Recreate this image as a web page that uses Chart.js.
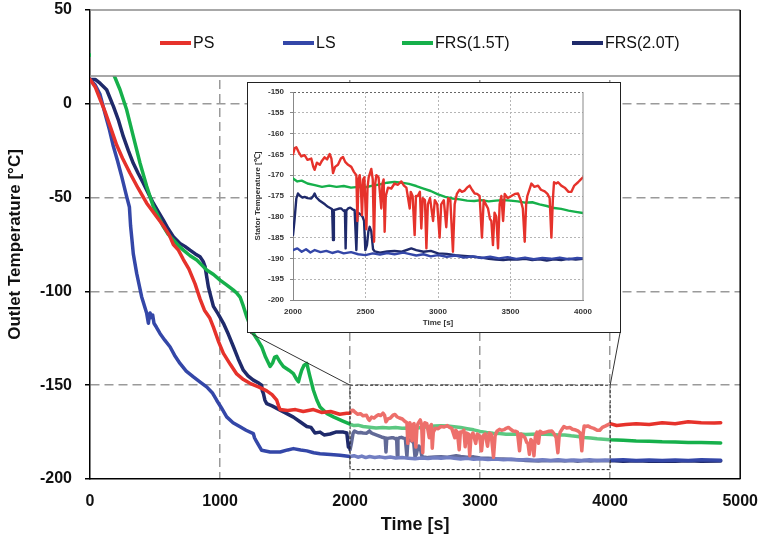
<!DOCTYPE html>
<html>
<head>
<meta charset="utf-8">
<script src="https://cdn.jsdelivr.net/npm/chart.js@4.4.1/dist/chart.umd.min.js"></script>
<style>
  html, body { margin: 0; padding: 0; background: #fff; }
  #wrap { position: relative; width: 766px; height: 541px; }
  #mainChart { position: absolute; left: 0; top: 0; }
  #insetBox { position: absolute; left: 247px; top: 82px; width: 372px; height: 249px;
              border: 1.5px solid #222; background: #fff; }
  #insetChart { position: absolute; left: 0; top: 0; }
</style>
</head>
<body>
<div id="wrap">
  <canvas id="mainChart" width="766" height="541"></canvas>
  <div id="insetBox"><canvas id="insetChart" width="372" height="249"></canvas></div>
</div>
<script>
// series names and colours
const seriesNames = ['PS', 'LS', 'FRS(1.5T)', 'FRS(2.0T)'];
const seriesColors = ['#e6322b', '#3447a8', '#16b04b', '#1f2a6b'];

// PS
const psTime = [0, 40, 80, 115, 160, 205, 250, 308, 370, 436, 500, 564, 610, 641, 680, 718, 760, 808, 846, 880,
  920, 949, 990, 1026, 1080, 1128, 1180, 1230, 1300, 1359, 1400, 1436, 1450, 1462, 1520, 1580, 1640, 1718, 1780, 1850,
  1920, 1974, 2000, 2012, 2023, 2040, 2057, 2080, 2100, 2126, 2140, 2149, 2165, 2185, 2200, 2218, 2235, 2253, 2265, 2276,
  2290, 2310, 2330, 2345, 2360, 2380, 2402, 2420, 2437, 2444, 2452, 2460, 2468, 2476, 2484, 2492, 2506, 2514, 2522, 2540,
  2550, 2559, 2567, 2575, 2590, 2609, 2617, 2625, 2632, 2640, 2655, 2678, 2700, 2724, 2747, 2765, 2782, 2805, 2812, 2825,
  2839, 2848, 2860, 2875, 2885, 2895, 2910, 2920, 2930, 2945, 2966, 2978, 2995, 3011, 3022, 3040, 3057, 3070, 3085, 3103,
  3115, 3130, 3149, 3165, 3184, 3200, 3218, 3235, 3253, 3270, 3287, 3303, 3315, 3330, 3345, 3358, 3368, 3379, 3390, 3402,
  3414, 3425, 3437, 3449, 3460, 3480, 3506, 3530, 3552, 3570, 3585, 3598, 3608, 3616, 3630, 3644, 3665, 3690, 3710, 3736,
  3755, 3770, 3782, 3792, 3800, 3815, 3828, 3850, 3874, 3900, 3920, 3940, 3966, 3985, 4000, 4050, 4120, 4200, 4300, 4400,
  4500, 4600, 4700, 4800, 4850];
const psTemp = [13, 9, 2, -4, -13, -22, -29, -37, -45, -53, -59, -65, -70, -75, -78, -83, -88, -96, -104, -110,
  -114, -119, -127, -133, -139, -144, -147, -149, -151, -153, -155, -158, -161, -163, -163.5, -163, -164, -163, -164.5, -164,
  -165.5, -165, -165, -163.5, -163.3, -164.5, -165.5, -165.2, -166.3, -166, -168, -168.7, -167, -167.5, -166.5, -165.7, -166.2, -164.9, -166, -169.5,
  -168, -167.5, -166, -165.6, -166.8, -167.5, -168, -169.2, -170, -181, -171, -170, -173, -179.6, -171, -170.5, -183, -173, -170.5, -168.5,
  -171, -186, -172, -170, -170.5, -178, -172, -171, -183.6, -175, -173, -173.2, -172, -172.3, -171.5, -172.5, -173, -178, -174, -175,
  -184.4, -175, -175, -174, -182.8, -175.5, -176, -187.6, -177, -175.5, -181, -176, -177, -185, -177, -176, -182.5, -175.5, -176, -188.4,
  -177, -174.5, -173.5, -174, -173.7, -173, -172.5, -173.5, -174.4, -174.5, -175, -185, -176, -177, -178, -180.5, -181, -186.8, -179, -180,
  -187.6, -177, -175, -181, -174.5, -175.5, -175, -174.5, -174.4, -176, -178, -186, -177, -175, -173.5, -172, -172.8, -172.5, -173.5, -173.9,
  -174.5, -175.5, -185, -176, -171.7, -172, -171.7, -172.5, -173, -174, -174, -172.5, -171.7, -171, -170.5, -171.5, -171, -170.5, -171, -170,
  -170.5, -169.5, -170, -170.2, -170];

// LS
const lsTime = [0, 40, 77, 115, 150, 180, 210, 244, 282, 303, 312, 322, 333, 359, 397, 436, 449, 456, 462, 470,
  482, 492, 510, 538, 575, 615, 650, 692, 740, 795, 850, 897, 940, 974, 1010, 1051, 1100, 1154, 1200, 1256,
  1265, 1280, 1320, 1385, 1462, 1520, 1564, 1620, 1667, 1720, 1769, 1850, 1923, 2000, 2030, 2060, 2090, 2120, 2150, 2190,
  2230, 2270, 2310, 2350, 2400, 2450, 2500, 2550, 2600, 2650, 2700, 2760, 2800, 2850, 2900, 2950, 3000, 3060, 3120, 3180,
  3240, 3300, 3360, 3420, 3480, 3540, 3600, 3660, 3720, 3780, 3840, 3900, 3960, 4000, 4100, 4200, 4300, 4400, 4500, 4600,
  4700, 4850];
const lsTemp = [13, 10, 5, -5, -14, -22.8, -30, -38.8, -49.5, -55, -65, -72, -80, -90.4, -102.8, -111.7, -117, -113, -111.5, -114,
  -112.6, -117, -119, -122.4, -126, -129.5, -134, -138.4, -142.5, -145.6, -148.5, -150.9, -154, -158, -162, -166.9, -170, -172.2, -174, -175.8,
  -178, -180, -184.7, -185.6, -185.6, -184.5, -183.8, -184.5, -185, -186, -186.5, -187, -187.4, -188, -187.6, -188.4, -187.8, -188.6, -188, -188.5,
  -188.2, -188.7, -188.3, -188.8, -188.5, -189, -189.2, -188.8, -189.1, -188.7, -189, -188.6, -188.9, -189.3, -189, -189.5, -189.2, -189.6, -189.3, -189.8,
  -189.5, -189.9, -189.6, -190, -189.7, -190.1, -189.8, -190.2, -189.9, -190.1, -189.8, -190.2, -189.9, -190, -189.8, -190.1, -189.9, -190.2, -189.9, -190.1,
  -189.8, -190];

// FRS(1.5T)
const frs15Time = [0, 60, 120, 160, 192, 231, 282, 333, 385, 436, 487, 525, 564, 600, 641, 680, 718, 770, 821, 860,
  897, 950, 1000, 1050, 1103, 1130, 1154, 1180, 1205, 1230, 1256, 1290, 1320, 1350, 1385, 1405, 1420, 1436, 1460, 1487,
  1530, 1564, 1590, 1603, 1615, 1628, 1645, 1667, 1690, 1718, 1745, 1769, 1820, 1872, 1940, 2000, 2030, 2060, 2100, 2150,
  2200, 2250, 2300, 2350, 2400, 2450, 2500, 2550, 2600, 2650, 2700, 2750, 2800, 2850, 2900, 2950, 3000, 3050, 3100, 3150,
  3200, 3250, 3300, 3350, 3400, 3450, 3500, 3550, 3600, 3650, 3700, 3750, 3800, 3850, 3900, 3950, 4000, 4100, 4200, 4300,
  4400, 4500, 4600, 4700, 4850];
const frs15Temp = [26, 25, 22, 19, 14, 7.5, -3.2, -17.4, -31.7, -44, -54.8, -60, -65.5, -69.5, -72.6, -75.5, -78, -81, -83.3, -86,
  -88.6, -91, -94, -96.5, -99.3, -101, -103, -108, -113.5, -118, -122.4, -126, -129.5, -135, -140, -138, -135, -134.6, -137.5, -140,
  -142, -143.8, -147, -148.2, -145, -142, -139.5, -138.4, -145, -152.7, -158, -161.6, -165, -166.9, -169, -170.8, -171.5, -171.3, -172, -172.4,
  -172.8, -172.5, -172.8, -172.6, -173, -172.8, -172.9, -172.5, -172.2, -171.8, -171.6, -171.8, -172.1, -172.6, -173.2, -173.8, -174.6, -175.2, -175.6, -175.8,
  -176.1, -176.2, -176, -176.3, -176.1, -176, -176.1, -176.3, -176.6, -176.5, -177, -177.4, -177.9, -178.1, -178.5, -178.8, -179.1, -179.4, -179.8, -179.9,
  -180.2, -180.3, -180.6, -180.5, -180.8];

// FRS(2.0T)
const frs20Time = [0, 40, 77, 128, 180, 220, 256, 295, 333, 370, 410, 450, 487, 525, 564, 600, 641, 692, 730, 769,
  810, 846, 870, 885, 897, 910, 930, 949, 985, 1026, 1065, 1103, 1140, 1179, 1215, 1256, 1300, 1320, 1325, 1333,
  1345, 1359, 1400, 1462, 1510, 1564, 1615, 1667, 1700, 1730, 1769, 1800, 1846, 1890, 1949, 1975, 1987, 1995, 2000, 2010,
  2023, 2034, 2050, 2065, 2080, 2100, 2126, 2140, 2149, 2160, 2180, 2200, 2220, 2241, 2262, 2270, 2276, 2282, 2300, 2320,
  2333, 2350, 2358, 2363, 2368, 2380, 2395, 2410, 2425, 2437, 2445, 2460, 2471, 2480, 2490, 2499, 2510, 2520, 2529, 2540,
  2552, 2563, 2600, 2650, 2700, 2750, 2816, 2850, 2900, 2950, 3000, 3060, 3120, 3180, 3250, 3300, 3350, 3400, 3450, 3500,
  3550, 3600, 3650, 3700, 3750, 3800, 3850, 3900, 3950, 4000, 4100, 4200, 4300, 4400, 4500, 4600, 4700, 4850];
const frs20Temp = [13, 13, 11, 7.5, -1.4, -9, -17.4, -25, -31.7, -37, -42.3, -48, -53, -57.5, -62, -66.5, -70.8, -74.4, -76, -78,
  -80, -81.5, -84, -86.8, -92, -97.5, -103, -108, -112, -117, -123, -129.5, -136, -142, -145, -147.3, -149, -150, -153, -154.4,
  -158, -159.8, -161, -163.3, -165, -167, -169.5, -172, -172.5, -175.5, -175, -176.5, -176, -175, -175, -175.5, -183, -182, -184.4, -181,
  -175.6, -174.4, -175, -175.4, -175.2, -175.5, -175.6, -175, -174.4, -175.3, -176, -176.5, -177, -177.6, -178, -178.2, -185.6, -178.4, -178.2, -178,
  -178, -178.6, -178.4, -187.6, -178.5, -178, -177.8, -178.2, -178.4, -188, -179, -179.3, -179.6, -180, -181, -188, -186.8, -183.5, -182.4, -183.5,
  -187.8, -188.3, -188.6, -188.3, -188.2, -188.4, -187.6, -188, -188.4, -188.2, -188.8, -188.9, -189.2, -189.4, -189.6, -189.8, -190.1, -190.3, -190.4, -190.2,
  -190.3, -190.1, -190.4, -190.2, -190.5, -190.2, -190.4, -190.1, -190.3, -190.1, -190.5, -190.3, -190.6, -190.4, -190.5, -190.3, -190.5, -190.4];

const seriesTimes = [psTime, lsTime, frs15Time, frs20Time];
const seriesTemps = [psTemp, lsTemp, frs15Temp, frs20Temp];

function buildDatasets(width) {
    return seriesNames.map((name, i) => ({
        label: name,
        data: seriesTimes[i].map((t, j) => ({ x: t, y: seriesTemps[i][j] })),
        borderColor: seriesColors[i],
        backgroundColor: seriesColors[i],
        borderWidth: width,
        pointRadius: 0,
        tension: 0,
        fill: false,
        borderJoinStyle: 'round',
        borderCapStyle: 'round'
    }));
}

const FONT = "'Liberation Sans', Arial, sans-serif";
const plainTick = v => String(v);

// zoomed region, legend box, frame
const mainDecor = {
    id: 'mainDecor',
    afterDatasetsDraw(chart) {
        const { ctx, chartArea: a, scales: { x, y } } = chart;
        const rx1 = x.getPixelForValue(2000), rx2 = x.getPixelForValue(4000);
        const ry1 = y.getPixelForValue(-150), ry2 = y.getPixelForValue(-195);
        ctx.save();
        ctx.fillStyle = 'rgba(255,255,255,0.3)';
        ctx.fillRect(rx1, ry1, rx2 - rx1, ry2 - ry1);
        ctx.strokeStyle = '#222';
        ctx.lineWidth = 1;
        ctx.setLineDash([3, 2]);
        ctx.strokeRect(rx1, ry1, rx2 - rx1, ry2 - ry1);
        ctx.setLineDash([]);
        ctx.strokeStyle = '#333';
        ctx.beginPath();
        ctx.moveTo(250, 333); ctx.lineTo(rx1, ry1);
        ctx.moveTo(620, 333); ctx.lineTo(rx2, ry1);
        ctx.stroke();

        // legend box
        const lb = a.top + 66;
        ctx.fillStyle = '#fff';
        ctx.fillRect(a.left + 1, a.top, a.right - a.left - 1, lb - a.top);
        ctx.strokeStyle = '#8c8c8c';
        ctx.lineWidth = 1.5;
        ctx.beginPath();
        ctx.moveTo(a.left, a.top); ctx.lineTo(a.right, a.top);
        ctx.moveTo(a.left, lb); ctx.lineTo(a.right, lb);
        ctx.stroke();

        const legendX = [160, 283, 402, 572];
        const ly = 43;
        ctx.font = '16px ' + FONT;
        ctx.textBaseline = 'middle';
        ctx.textAlign = 'left';
        chart.data.datasets.forEach((ds, i) => {
            ctx.strokeStyle = ds.borderColor;
            ctx.lineWidth = 4;
            ctx.beginPath();
            ctx.moveTo(legendX[i], ly); ctx.lineTo(legendX[i] + 31, ly);
            ctx.stroke();
            ctx.fillStyle = '#111';
            ctx.fillText(ds.label, legendX[i] + 33, ly + 1);
        });

        // right frame
        ctx.strokeStyle = '#000';
        ctx.lineWidth = 1.5;
        ctx.beginPath();
        ctx.moveTo(a.right, a.top); ctx.lineTo(a.right, a.bottom);
        ctx.stroke();
        ctx.restore();
    }
};

const mainChart = new Chart(document.getElementById('mainChart').getContext('2d'), {
    type: 'line',
    data: { datasets: buildDatasets(3.5) },
    plugins: [mainDecor],
    options: {
        responsive: false,
        animation: false,
        devicePixelRatio: 1,
        layout: { padding: { top: 0, right: 25, left: 0, bottom: 0 } },
        plugins: { legend: { display: false }, tooltip: { enabled: false } },
        scales: {
            x: {
                type: 'linear', min: 0, max: 5000,
                afterFit: s => { s.height = 62; },
                ticks: { stepSize: 1000, color: '#111', padding: 8, maxRotation: 0, callback: plainTick,
                         font: { family: FONT, size: 16, weight: 'bold' } },
                grid: {
                    color: c => (c.tick && (c.tick.value === 0 || c.tick.value === 5000)) ? 'rgba(0,0,0,0)' : '#9a9a9a',
                    lineWidth: 1.5, tickLength: 5, tickColor: 'rgba(0,0,0,0)'
                },
                border: { display: true, color: '#000', width: 1.5, dash: [9, 5] },
                title: { display: true, text: 'Time [s]', color: '#111',
                         font: { family: FONT, size: 18, weight: 'bold' }, padding: { top: 0, bottom: 5 } }
            },
            y: {
                min: -200, max: 50,
                afterFit: s => { s.width = 90; s.paddingTop = 10; s.paddingBottom = 0; },
                ticks: { stepSize: 50, color: '#111', padding: 13, callback: plainTick,
                         font: { family: FONT, size: 16, weight: 'bold' } },
                grid: {
                    color: c => (c.tick && (c.tick.value === 50 || c.tick.value === -200)) ? 'rgba(0,0,0,0)' : '#9a9a9a',
                    lineWidth: 1.5, tickLength: 5, tickColor: '#000', tickWidth: 1.5
                },
                border: { display: true, color: '#000', width: 1.5, dash: [9, 5] },
                title: { display: true, text: 'Outlet Temperature [°C]', color: '#111',
                         font: { family: FONT, size: 17, weight: 'bold' }, padding: { top: 5, bottom: 0 } }
            }
        }
    }
});

// inset frame
const insetFrame = {
    id: 'insetFrame',
    afterDatasetsDraw(chart) {
        const { ctx, chartArea: a } = chart;
        ctx.save();
        ctx.strokeStyle = '#888';
        ctx.lineWidth = 1;
        ctx.beginPath();
        ctx.moveTo(a.right, a.top); ctx.lineTo(a.right, a.bottom);
        ctx.stroke();
        ctx.restore();
    }
};

const insetChart = new Chart(document.getElementById('insetChart').getContext('2d'), {
    type: 'line',
    data: { datasets: buildDatasets(2.4) },
    plugins: [insetFrame],
    options: {
        responsive: false,
        animation: false,
        devicePixelRatio: 1,
        layout: { padding: { top: 0, right: 37, left: 0, bottom: 0 } },
        plugins: { legend: { display: false }, tooltip: { enabled: false } },
        scales: {
            x: {
                type: 'linear', min: 2000, max: 4000,
                afterFit: s => { s.height = 32; },
                ticks: { stepSize: 500, color: '#333', padding: 4, maxRotation: 0, callback: plainTick,
                         font: { family: FONT, size: 8, weight: 'bold' } },
                grid: {
                    color: c => (c.tick && (c.tick.value === 2000 || c.tick.value === 4000)) ? 'rgba(0,0,0,0)' : '#b5b5b5',
                    lineWidth: 1, tickLength: 3, tickColor: 'rgba(0,0,0,0)'
                },
                border: { display: true, color: '#888', width: 1, dash: [2, 2] },
                title: { display: true, text: 'Time [s]', color: '#333',
                         font: { family: FONT, size: 8, weight: 'bold' }, padding: { top: 0, bottom: 4 } }
            },
            y: {
                min: -200, max: -150,
                afterFit: s => { s.width = 45; s.paddingTop = 9; s.paddingBottom = 0; },
                ticks: { stepSize: 5, color: '#333', padding: 6, callback: plainTick,
                         font: { family: FONT, size: 8, weight: 'bold' } },
                grid: {
                    color: c => (c.tick && c.tick.value === -200) ? 'rgba(0,0,0,0)' :
                                (c.tick && c.tick.value === -150) ? '#666' : '#b5b5b5',
                    lineWidth: 1, tickLength: 3, tickColor: '#888'
                },
                border: { display: true, color: '#888', width: 1, dash: [2, 2] },
                title: { display: true, text: 'Stator Temperature [℃]', color: '#333',
                         font: { family: FONT, size: 8, weight: 'bold' }, padding: { top: 5, bottom: 0 } }
            }
        }
    }
});
</script>
</body>
</html>
